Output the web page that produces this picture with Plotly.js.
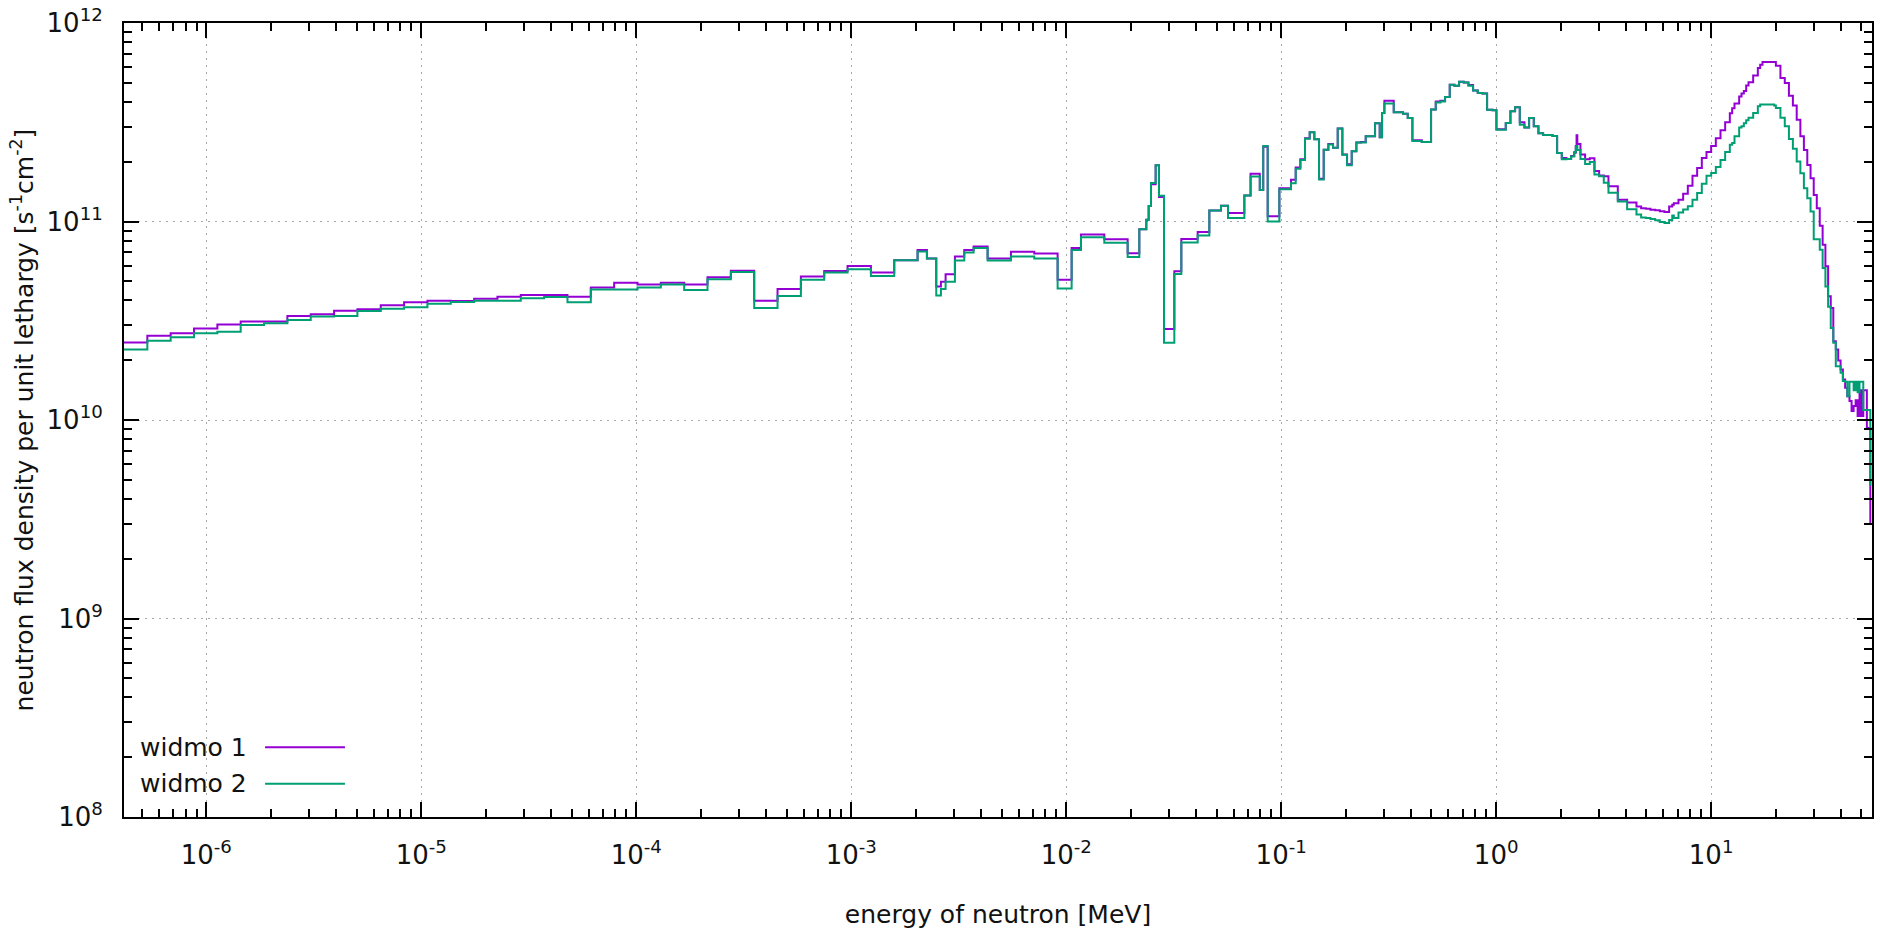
<!DOCTYPE html>
<html>
<head>
<meta charset="utf-8">
<script src="https://cdn.plot.ly/plotly-3.0.1.min.js"></script>
<style>
  html, body { margin: 0; padding: 0; background: #ffffff; }
  #chart { width: 1882px; height: 929px; }
</style>
</head>
<body>
<div id="chart"></div>
<script>
// Bin lower edges [MeV]; the last entry is the end point of the histogram
const energyEdges = [
  4.1399e-7, 5.3158e-7, 6.8256e-7, 8.7642e-7, 1.1254e-6, 1.4450e-6, 1.8554e-6, 2.3824e-6, 3.0590e-6, 3.9279e-6,
  5.0435e-6, 6.4760e-6, 8.3153e-6, 1.0677e-5, 1.3710e-5, 1.7604e-5, 2.2603e-5, 2.9023e-5, 3.7266e-5, 4.7851e-5,
  6.1442e-5, 7.8893e-5, 1.0130e-4, 1.3007e-4, 1.6702e-4, 2.1445e-4, 2.7536e-4, 3.5358e-4, 4.5400e-4, 5.8295e-4,
  7.4852e-4, 9.6112e-4, 1.2341e-3, 1.5846e-3, 2.0347e-3, 2.2487e-3, 2.4852e-3, 2.6126e-3, 2.7465e-3, 3.0354e-3,
  3.3546e-3, 3.7074e-3, 4.3074e-3, 5.5308e-3, 7.1017e-3, 9.1188e-3, 1.0595e-2, 1.1709e-2, 1.5034e-2, 1.9305e-2,
  2.1875e-2, 2.3579e-2, 2.4176e-2, 2.4788e-2, 2.6058e-2, 2.7000e-2, 2.8501e-2, 3.1828e-2, 3.4307e-2, 4.0868e-2,
  4.6309e-2, 5.2475e-2, 5.6562e-2, 6.7380e-2, 7.2024e-2, 7.9499e-2, 8.2503e-2, 8.6517e-2, 9.8037e-2, 0.11109,
  0.11679, 0.12277, 0.12907, 0.13569, 0.14264, 0.14996, 0.15764, 0.16573, 0.17422, 0.18316,
  0.19255, 0.20242, 0.21280, 0.22371, 0.23518, 0.24724, 0.27324, 0.28725, 0.29452, 0.29721,
  0.29849, 0.30197, 0.33373, 0.36883, 0.38774, 0.40762, 0.45049, 0.49787, 0.52340, 0.55023,
  0.57844, 0.60810, 0.63928, 0.67206, 0.70651, 0.74274, 0.78082, 0.82085, 0.86294, 0.90718,
  0.96167, 1.0026, 1.1080, 1.1648, 1.2246, 1.2874, 1.3534, 1.4227, 1.4957, 1.5724,
  1.6530, 1.7377, 1.8268, 1.9205, 2.0190, 2.1225, 2.2313, 2.3069, 2.3457, 2.3653,
  2.3851, 2.4660, 2.5924, 2.7253, 2.8650, 3.0119, 3.1664, 3.3287, 3.6788, 4.0657,
  4.4933, 4.7237, 4.9659, 5.2205, 5.4881, 5.7695, 6.0653, 6.3763, 6.5924, 6.7032,
  7.0469, 7.4082, 7.7880, 8.1873, 8.6071, 9.0484, 9.5123, 10.000, 10.513, 11.052,
  11.618, 12.214, 12.523, 12.840, 13.499, 13.840, 14.191, 14.550, 14.918, 15.683,
  16.487, 16.905, 17.333, 19.640, 20, 21, 22, 23, 24, 25,
  26, 27, 28, 29, 30, 31, 32, 33, 34, 35,
  36, 37, 38, 39, 40, 41, 42, 43, 44, 45,
  46, 47, 48, 49, 50, 51, 52, 53, 54, 55
];

// neutron flux density per unit lethargy [1/(s cm^2)] - "widmo 1"
const fluxWidmo1 = [
  2.455e10, 2.661e10, 2.735e10, 2.891e10, 3.027e10, 3.133e10, 3.133e10, 3.342e10, 3.412e10, 3.556e10,
  3.614e10, 3.784e10, 3.917e10, 3.990e10, 3.981e10, 4.083e10, 4.178e10, 4.266e10, 4.266e10, 4.178e10,
  4.645e10, 4.920e10, 4.819e10, 4.920e10, 4.819e10, 5.236e10, 5.649e10, 3.990e10, 4.571e10, 5.284e10,
  5.636e10, 5.970e10, 5.534e10, 6.383e10, 7.194e10, 6.501e10, 4.699e10, 4.977e10, 5.420e10, 6.668e10,
  7.194e10, 7.482e10, 6.501e10, 7.031e10, 6.902e10, 5.093e10, 7.345e10, 8.610e10, 8.128e10, 6.918e10,
  9.141e10, 1.021e11, 1.197e11, 1.542e11, 1.919e11, 1.327e11, 2.871e10, 5.623e10, 8.166e10, 8.851e10,
  1.135e11, 1.199e11, 1.104e11, 1.352e11, 1.738e11, 1.439e11, 2.377e11, 1.062e11, 1.472e11, 1.622e11,
  1.871e11, 2.056e11, 2.630e11, 2.818e11, 2.600e11, 1.644e11, 2.301e11, 2.455e11, 2.355e11, 2.938e11,
  2.173e11, 1.941e11, 2.259e11, 2.500e11, 2.512e11, 2.692e11, 3.126e11, 2.661e11, 3.516e11, 3.516e11,
  3.516e11, 4.055e11, 3.548e11, 3.491e11, 3.319e11, 2.570e11, 2.512e11, 3.664e11, 4.018e11, 4.055e11,
  4.236e11, 4.887e11, 4.831e11, 5.058e11, 5.012e11, 4.875e11, 4.571e11, 4.446e11, 4.416e11, 3.656e11,
  3.631e11, 2.917e11, 3.133e11, 3.589e11, 3.767e11, 3.162e11, 2.979e11, 3.319e11, 3.020e11, 2.786e11,
  2.729e11, 2.729e11, 2.698e11, 2.213e11, 2.089e11, 2.065e11, 2.138e11, 2.223e11, 2.399e11, 2.723e11,
  2.455e11, 2.173e11, 2.056e11, 2.080e11, 1.799e11, 1.706e11, 1.690e11, 1.503e11, 1.288e11, 1.245e11,
  1.191e11, 1.167e11, 1.159e11, 1.146e11, 1.140e11, 1.125e11, 1.117e11, 1.191e11, 1.213e11, 1.236e11,
  1.288e11, 1.380e11, 1.514e11, 1.698e11, 1.862e11, 2.089e11, 2.239e11, 2.399e11, 2.630e11, 2.884e11,
  3.162e11, 3.508e11, 3.715e11, 3.936e11, 4.266e11, 4.416e11, 4.550e11, 4.842e11, 5.035e11, 5.433e11,
  5.929e11, 6.166e11, 6.368e11, 6.368e11, 6.095e11, 5.284e11, 4.989e11, 4.305e11, 3.837e11, 3.258e11,
  2.685e11, 2.291e11, 1.928e11, 1.652e11, 1.361e11, 1.167e11, 9.506e10, 7.638e10, 5.943e10, 4.198e10,
  3.664e10, 2.495e10, 2.265e10, 1.995e10, 1.799e10, 1.600e10, 1.452e10, 1.318e10, 1.245e10, 1.109e10,
  1.175e10, 1.259e10, 1.047e10, 1.413e10, 1.047e10, 1.413e10, 1.413e10, 9.120e9, 9.120e9, 2.985e9
];

// neutron flux density per unit lethargy [1/(s cm^2)] - "widmo 2"
const fluxWidmo2 = [
  2.265e10, 2.506e10, 2.612e10, 2.735e10, 2.780e10, 3.013e10, 3.069e10, 3.192e10, 3.319e10, 3.342e10,
  3.540e10, 3.639e10, 3.698e10, 3.855e10, 3.936e10, 3.990e10, 3.990e10, 4.102e10, 4.169e10, 3.917e10,
  4.550e10, 4.550e10, 4.645e10, 4.819e10, 4.519e10, 5.117e10, 5.559e10, 3.664e10, 4.217e10, 5.082e10,
  5.534e10, 5.754e10, 5.321e10, 6.383e10, 7.063e10, 6.501e10, 4.236e10, 4.571e10, 4.977e10, 6.353e10,
  6.982e10, 7.345e10, 6.353e10, 6.668e10, 6.501e10, 4.592e10, 7.194e10, 8.337e10, 7.816e10, 6.622e10,
  9.141e10, 1.021e11, 1.197e11, 1.563e11, 1.919e11, 1.349e11, 2.449e10, 5.433e10, 7.834e10, 8.511e10,
  1.135e11, 1.199e11, 1.042e11, 1.352e11, 1.683e11, 1.439e11, 2.399e11, 1.000e11, 1.455e11, 1.560e11,
  1.845e11, 2.042e11, 2.612e11, 2.818e11, 2.600e11, 1.626e11, 2.301e11, 2.443e11, 2.350e11, 2.938e11,
  2.168e11, 1.919e11, 2.259e11, 2.500e11, 2.500e11, 2.692e11, 3.126e11, 2.661e11, 3.516e11, 3.516e11,
  3.516e11, 3.926e11, 3.548e11, 3.491e11, 3.319e11, 2.541e11, 2.512e11, 3.664e11, 3.981e11, 4.018e11,
  4.236e11, 4.887e11, 4.831e11, 5.058e11, 5.012e11, 4.831e11, 4.571e11, 4.446e11, 4.416e11, 3.656e11,
  3.631e11, 2.897e11, 3.133e11, 3.589e11, 3.767e11, 3.069e11, 2.979e11, 3.319e11, 3.020e11, 2.786e11,
  2.729e11, 2.729e11, 2.698e11, 2.213e11, 2.056e11, 2.065e11, 2.123e11, 2.239e11, 2.371e11, 2.399e11,
  2.291e11, 2.065e11, 1.950e11, 1.995e11, 1.726e11, 1.690e11, 1.567e11, 1.396e11, 1.262e11, 1.153e11,
  1.084e11, 1.047e11, 1.040e11, 1.030e11, 1.014e11, 9.954e10, 9.840e10, 1.019e11, 1.072e11, 1.040e11,
  1.109e11, 1.148e11, 1.194e11, 1.288e11, 1.390e11, 1.549e11, 1.698e11, 1.754e11, 1.884e11, 2.042e11,
  2.239e11, 2.438e11, 2.483e11, 2.692e11, 2.979e11, 3.020e11, 3.126e11, 3.236e11, 3.327e11, 3.524e11,
  3.811e11, 3.882e11, 3.890e11, 3.837e11, 3.733e11, 3.327e11, 3.020e11, 2.606e11, 2.323e11, 2.004e11,
  1.750e11, 1.472e11, 1.309e11, 1.122e11, 8.147e10, 8.147e10, 7.211e10, 5.834e10, 4.710e10, 3.715e10,
  2.911e10, 2.449e10, 1.866e10, 1.866e10, 1.730e10, 1.570e10, 1.560e10, 1.318e10, 1.560e10, 1.560e10,
  1.413e10, 1.560e10, 1.380e10, 1.560e10, 1.560e10, 1.122e10, 1.122e10, 1.122e10, 1.122e10, 4.677e9
];

const seriesNames = ['widmo 1', 'widmo 2'];
const seriesColors = ['#9400d3', '#009e73'];

const xTickVals = [1e-6, 1e-5, 1e-4, 1e-3, 1e-2, 1e-1, 1, 10];
const xTickText = ['10<sup>-6</sup>', '10<sup>-5</sup>', '10<sup>-4</sup>', '10<sup>-3</sup>',
                   '10<sup>-2</sup>', '10<sup>-1</sup>', '10<sup>0</sup>', '10<sup>1</sup>'];
const yTickVals = [1e8, 1e9, 1e10, 1e11, 1e12];
const yTickText = ['10<sup>8</sup>', '10<sup>9</sup>', '10<sup>10</sup>', '10<sup>11</sup>', '10<sup>12</sup>'];

const FONT = 'DejaVu Sans, Verdana, sans-serif';

const traces = [fluxWidmo1, fluxWidmo2].map((vals, i) => ({
  type: 'scatter',
  mode: 'lines',
  name: seriesNames[i],
  x: energyEdges,
  y: vals,
  line: { shape: 'hv', color: seriesColors[i], width: 2 },
  showlegend: false,
  hoverinfo: 'skip'
}));

const axisCommon = {
  type: 'log',
  showline: true, linecolor: '#000', linewidth: 2,
  mirror: 'allticks',
  ticks: 'inside', ticklen: 15, tickwidth: 2, tickcolor: '#000',
  showgrid: true, gridcolor: '#a8a8a8', gridwidth: 1, griddash: '2px,5px',
  zeroline: false,
  tickmode: 'array',
  tickfont: { family: FONT, size: 26, color: '#111' },
  minor: { ticks: 'inside', ticklen: 8, tickwidth: 2, tickcolor: '#000', dtick: 'D1', showgrid: false }
};

// legend (gnuplot style: text then line sample), placed in paper coordinates
const legendRows = [0.088, 0.042];
const annotations = seriesNames.map((n, i) => ({
  xref: 'paper', yref: 'paper', x: 0.0715, y: legendRows[i],
  xanchor: 'right', yanchor: 'middle', showarrow: false,
  text: n, font: { family: FONT, size: 25, color: '#111' }
}));
const shapes = seriesNames.map((n, i) => ({
  type: 'line', xref: 'paper', yref: 'paper',
  x0: 0.0807, x1: 0.1264, y0: legendRows[i], y1: legendRows[i],
  line: { color: seriesColors[i], width: 2 }
}));

const layout = {
  width: 1882, height: 929,
  margin: { l: 124, r: 10, t: 23, b: 112 },
  paper_bgcolor: '#ffffff', plot_bgcolor: '#ffffff',
  font: { family: FONT, color: '#111' },
  xaxis: Object.assign({}, axisCommon, {
    range: [Math.log10(4.1399e-7), Math.log10(56)],
    tickvals: xTickVals, ticktext: xTickText,
    ticklabelstandoff: 14,
    title: { text: 'energy of neutron [MeV]', font: { family: FONT, size: 25, color: '#111' }, standoff: 38 }
  }),
  yaxis: Object.assign({}, axisCommon, {
    range: [8, 12],
    tickvals: yTickVals, ticktext: yTickText,
    ticklabelstandoff: 14,
    title: { text: 'neutron flux density per unit lethargy [s<sup>-1</sup>cm<sup>-2</sup>]',
             font: { family: FONT, size: 25, color: '#111' }, standoff: 6 }
  }),
  annotations: annotations,
  shapes: shapes
};

Plotly.newPlot('chart', traces, layout, { displayModeBar: false, staticPlot: true });
</script>
</body>
</html>
